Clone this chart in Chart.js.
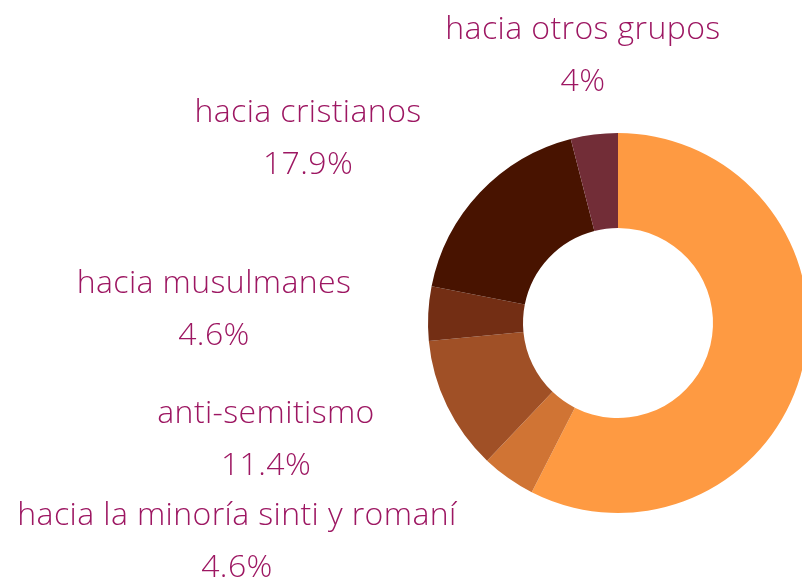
<!DOCTYPE html>
<html>
<head>
<meta charset="utf-8">
<script src="https://cdn.jsdelivr.net/npm/chart.js@4/dist/chart.umd.min.js"></script>
<style>
  html, body { margin: 0; padding: 0; background: #fff; overflow: hidden; }
  #wrap { width: 802px; height: 579px; overflow: hidden; position: relative; }
  canvas { display: block; }
</style>
</head>
<body>
<div id="wrap"><canvas id="chart" width="820" height="579"></canvas></div>
<script>
// segments clockwise from the top
const categories = [
  '',
  'hacia la minoría sinti y romaní',
  'anti-semitismo',
  'hacia musulmanes',
  'hacia cristianos',
  'hacia otros grupos'
];
const shares = [57.5, 4.6, 11.4, 4.6, 17.9, 4];
const sliceColors = ['#fe9a42', '#d07434', '#a05026', '#732e14', '#481300', '#722d37'];

// centre of each two-line label (x, baseline of first line)
const labelSpots = [
  null,
  [237, 525],
  [266, 423],
  [214, 293],
  [308, 122],
  [583, 39]
];

const textColor = '#9d1762';
const fontSpec = '300 32px "Open Sans"';
const lineGap = 52;

const sideLabels = {
  id: 'sideLabels',
  afterDraw(chart) {
    const ctx = chart.ctx;
    ctx.save();
    ctx.fillStyle = textColor;
    ctx.font = fontSpec;
    ctx.letterSpacing = '0.4px';
    ctx.textAlign = 'center';
    ctx.textBaseline = 'alphabetic';
    categories.forEach(function(name, i) {
      const spot = labelSpots[i];
      if (!name || !spot) return;
      ctx.fillText(name, spot[0], spot[1]);
      ctx.fillText(shares[i] + '%', spot[0], spot[1] + lineGap);
    });
    ctx.restore();
  }
};

new Chart(document.getElementById('chart'), {
  type: 'doughnut',
  data: {
    labels: categories,
    datasets: [{
      data: shares,
      backgroundColor: sliceColors,
      borderWidth: 0,
      hoverOffset: 0
    }]
  },
  options: {
    responsive: false,
    animation: false,
    devicePixelRatio: 1,
    cutout: '50%',
    layout: {
      padding: { left: 428, right: 12, top: 133, bottom: 66 }
    },
    plugins: {
      legend: { display: false },
      tooltip: { enabled: false }
    }
  },
  plugins: [sideLabels]
});
</script>
</body>
</html>
